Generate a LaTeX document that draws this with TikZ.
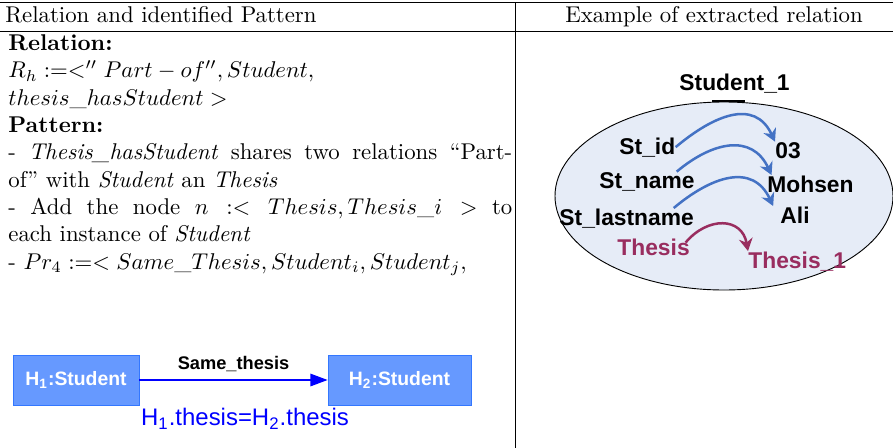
\documentclass[tikz,border=0pt]{standalone}
\usepackage{fontspec}
\newfontfamily\arialfam{Liberation Sans}
\usetikzlibrary{arrows.meta}
\definecolor{boxfill}{RGB}{102,153,255}
\definecolor{boxdraw}{RGB}{51,119,255}
\definecolor{ellfill}{RGB}{230,236,247}
\definecolor{curveblue}{RGB}{68,114,196}
\definecolor{curvepurple}{RGB}{153,45,95}
\tikzset{
  hbox/.style={draw=boxdraw,fill=boxfill,text=white,font=\arialfam\bfseries\fontsize{8.5}{10}\selectfont,minimum height=21.9pt,inner sep=0pt},
  lbl/.style={font=\arialfam\bfseries\fontsize{10}{12}\selectfont,inner sep=0pt,anchor=base west},
  bendarrow/.style={draw=curveblue,line width=1.1pt,looseness=1.25,-{Stealth[length=5.5pt,width=6pt]}}
}
\begin{document}
\begin{tikzpicture}[x=0.4386pt,y=-0.4386pt]
\useasboundingbox (0,0) rectangle (893,448);
\draw[line width=0.4pt] (0,2) -- (893,2);
\draw[line width=0.4pt] (0,31) -- (893,31);
\draw[line width=0.4pt] (515,2) -- (515,448);
\node[anchor=base west,inner sep=0] (lefthead) at (5,22) {Relation and identified Pattern};
\node[anchor=base,inner sep=0] (righthead) at (714,22) {Example of extracted relation};
\node[anchor=north west,inner sep=0,text width=221pt,align=justify] (pattern) at (8,34) {%
\textbf{Relation:}\\
$R_h :=<'' Part-of'', Student,$\\
$thesis\_hasStudent >$\\
\textbf{Pattern:}\\
- \textit{Thesis\_hasStudent} shares two relations ``Part-\linebreak of'' with \textit{Student} an \textit{Thesis}\\
- Add the node $n :< Thesis, Thesis\_i >$ to\linebreak each instance of \textit{Student}\\
- $Pr_4 :=< Same\_Thesis, Student_i, Student_j,$};
\node[hbox,minimum width=55.3pt] (hone) at (76,380) {H\textsubscript{1}:Student};
\node[hbox,minimum width=62.7pt] (htwo) at (399.5,380) {H\textsubscript{2}:Student};
\draw[blue,line width=0.5pt,-{Triangle[length=7.5pt,width=5.5pt]}] (hone) -- node[above=3.5pt,text=black,inner sep=0,font=\arialfam\bfseries\fontsize{8}{10}\selectfont] {Same\_thesis} (htwo);
\node[text=blue,inner sep=0,font=\arialfam\fontsize{10.5}{12}\selectfont] (cond) at (245,419) {H\textsubscript{1}.thesis=H\textsubscript{2}.thesis};
\draw[fill=ellfill,line width=0.4pt] (724,196) ellipse [x radius=169,y radius=94];
\draw[line width=0.8pt] (712,101) -- (745,101);
\node[lbl] (student) at (679,90) {Student\_1};
\node[lbl] (stid) at (619,154) {St\_id};
\node[lbl] (vid) at (775,158) {03};
\node[lbl] (stname) at (599,188) {St\_name};
\node[lbl] (vname) at (767,192) {Mohsen};
\node[lbl] (stlast) at (559,225) {St\_lastname};
\node[lbl] (vlast) at (780,223) {Ali};
\node[lbl,text=curvepurple] (thesis) at (617,255) {Thesis};
\node[lbl,text=curvepurple] (vthesis) at (748,268) {Thesis\_1};
\draw[bendarrow] (stid.east) to[out=40,in=115] (vid.north west);
\draw[bendarrow] ([xshift=-8pt]stname.north east) to[out=40,in=115] ([xshift=2pt]vname.north west);
\draw[bendarrow] ([xshift=-9pt]stlast.north east) to[out=40,in=115] ([xshift=-3pt]vlast.north west);
\draw[bendarrow,draw=curvepurple,looseness=1.4] ([xshift=-2pt,yshift=-2pt]thesis.north east) to[out=50,in=100] (vthesis.north west);
\end{tikzpicture}
\end{document}
